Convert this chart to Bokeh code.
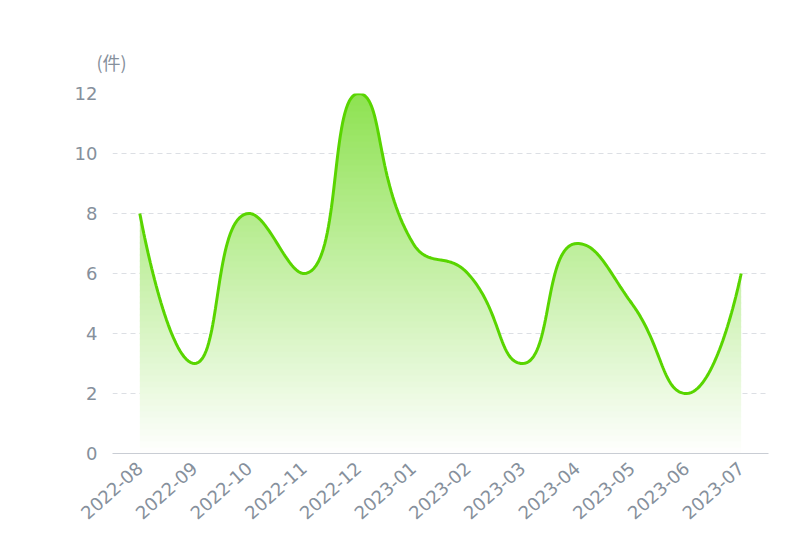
import math
import numpy as np
from bokeh.plotting import figure
from bokeh.models import FixedTicker, Range1d, Title
from bokeh.embed import file_html
from bokeh.resources import INLINE

months = ["2022-08", "2022-09", "2022-10", "2022-11", "2022-12", "2023-01",
          "2023-02", "2023-03", "2023-04", "2023-05", "2023-06", "2023-07"]
counts = [8, 3, 8, 6, 12, 7, 6, 3, 7, 5, 2, 6]
y_ticks = [0, 2, 4, 6, 8, 10, 12]
unit_label = "(件)"

LINE_COLOR = "#59d500"
TEXT_COLOR = "#86909c"
FONT = "DejaVu Sans"

# pixel scale used for ECharts-like smoothing
SX = 54.55  # px per category
SY = 30.0   # px per unit
SMOOTH = 0.5


def echarts_smooth(xs, ys, smooth=SMOOTH, n=40):
    pts = [(x * SX, -y * SY) for x, y in zip(xs, ys)]
    out_x, out_y = [pts[0][0]], [pts[0][1]]
    cpx0, cpy0 = pts[0]
    prevX, prevY = pts[0]
    N = len(pts)
    for i in range(1, N):
        x, y = pts[i]
        if i == N - 1:
            cpx1, cpy1 = x, y
            nextCpx0, nextCpy0 = x, y
        else:
            nextX, nextY = pts[i + 1]
            vx = nextX - prevX
            vy = nextY - prevY
            dx0, dy0 = x - prevX, y - prevY
            dx1, dy1 = nextX - x, nextY - y
            lp = math.hypot(dx0, dy0)
            ln = math.hypot(dx1, dy1)
            r = ln / (ln + lp)
            nextCpx0 = x + vx * smooth * r
            nextCpy0 = y + vy * smooth * r
            nextCpx0 = min(nextCpx0, max(nextX, x)); nextCpy0 = min(nextCpy0, max(nextY, y))
            nextCpx0 = max(nextCpx0, min(nextX, x)); nextCpy0 = max(nextCpy0, min(nextY, y))
            vx = nextCpx0 - x; vy = nextCpy0 - y
            cpx1 = x - vx * lp / ln; cpy1 = y - vy * lp / ln
            cpx1 = min(cpx1, max(prevX, x)); cpy1 = min(cpy1, max(prevY, y))
            cpx1 = max(cpx1, min(prevX, x)); cpy1 = max(cpy1, min(prevY, y))
            vx = x - cpx1; vy = y - cpy1
            nextCpx0 = x + vx * ln / lp; nextCpy0 = y + vy * ln / lp
        t = np.linspace(0, 1, n)[1:]
        bx = ((1 - t) ** 3) * prevX + 3 * ((1 - t) ** 2) * t * cpx0 + 3 * (1 - t) * t ** 2 * cpx1 + t ** 3 * x
        by = ((1 - t) ** 3) * prevY + 3 * ((1 - t) ** 2) * t * cpy0 + 3 * (1 - t) * t ** 2 * cpy1 + t ** 3 * y
        out_x.extend(bx.tolist()); out_y.extend(by.tolist())
        cpx0, cpy0 = nextCpx0, nextCpy0
        prevX, prevY = x, y
    return np.array(out_x) / SX, -np.array(out_y) / SY


idx = list(range(len(months)))
cx, cy = echarts_smooth(idx, counts)

p = figure(width=790, height=531, output_backend="svg", toolbar_location=None,
           x_range=Range1d(-0.5, len(months) - 0.5), y_range=Range1d(0, 12),
           min_border_left=112, min_border_right=22, min_border_top=93, min_border_bottom=78)
p.outline_line_color = None
p.background_fill_color = "white"
p.border_fill_color = "white"

# gradient area as stacked bands
ymax = max(counts)
nb = 60
g = np.array([89, 213, 0])
edges = np.linspace(0, ymax, nb + 1)
for j in range(nb):
    a, b = edges[j], edges[j + 1]
    tmid = (a + b) / 2 / ymax
    alpha = 0.68 * tmid
    col = (g * alpha + 255 * (1 - alpha)).astype(int)
    hexcol = "#%02x%02x%02x" % tuple(col)
    top = np.clip(cy, a, b + 0.03)
    p.varea(x=cx, y1=np.full_like(cx, a), y2=top, fill_color=hexcol, fill_alpha=1.0)

p.line(cx, cy, line_color=LINE_COLOR, line_width=3)

# axes
p.xaxis.ticker = FixedTicker(ticks=idx)
p.xaxis.major_label_overrides = {i: m for i, m in enumerate(months)}
p.xaxis.major_label_orientation = 0.73
p.xaxis.major_tick_line_color = None
p.xaxis.minor_tick_line_color = None
p.xaxis.axis_line_color = "#c9cdd4"
p.xaxis.major_label_text_color = TEXT_COLOR
p.xaxis.major_label_text_font = FONT
p.xaxis.major_label_text_font_size = "18px"
p.xaxis.major_label_standoff = 6

p.yaxis.ticker = FixedTicker(ticks=y_ticks)
p.yaxis.axis_line_color = None
p.yaxis.major_tick_line_color = None
p.yaxis.minor_tick_line_color = None
p.yaxis.major_label_text_color = TEXT_COLOR
p.yaxis.major_label_text_font = FONT
p.yaxis.major_label_text_font_size = "18px"
p.yaxis.major_label_standoff = 9

p.xgrid.grid_line_color = None
p.ygrid.ticker = FixedTicker(ticks=y_ticks[1:])
p.ygrid.grid_line_color = "#dcdfe4"
p.ygrid.grid_line_dash = "5 4"
p.ygrid.grid_line_width = 1

p.add_layout(Title(text=unit_label, align="left", offset=-16, standoff=38,
                   text_color=TEXT_COLOR, text_font="Noto Sans CJK SC",
                   text_font_size="18px", text_font_style="normal"), "above")

open("out.html", "w").write(file_html(p, INLINE))
